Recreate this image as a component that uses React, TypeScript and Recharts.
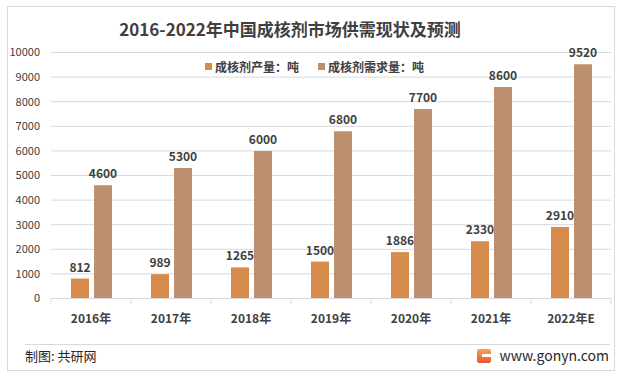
import React from 'react';
import { BarChart, Bar, XAxis, YAxis, CartesianGrid, LabelList, Customized } from 'recharts';

const categories = ['2016年', '2017年', '2018年', '2019年', '2020年', '2021年', '2022年E'];
const production = [812, 989, 1265, 1500, 1886, 2330, 2910];
const demand = [4600, 5300, 6000, 6800, 7700, 8600, 9520];
const yTicks = [0, 1000, 2000, 3000, 4000, 5000, 6000, 7000, 8000, 9000, 10000];
const seriesNames = ['成核剂产量：吨', '成核剂需求量：吨'];
const colors = ['#D58B4C', '#BC8F6F'];

const data = categories.map((c, i) => ({ name: c, prod: production[i], dem: demand[i] }));

const FONT = '"Noto Sans CJK SC", "Noto Sans", sans-serif';

const XTick = (props: any) => {
  const { x, y, payload, index } = props;
  const half = 40;
  return (
    <g>
      {index === 0 && <line x1={x - half} x2={x - half} y1={y - 8} y2={y - 3} stroke="#d9d9d9" />}
      <line x1={x + half} x2={x + half} y1={y - 8} y2={y - 3} stroke="#d9d9d9" />
      <text x={x} y={y + 16} textAnchor="middle" fontSize={12} fontWeight="bold" fill="#404040" fontFamily={FONT}>
        {payload.value}
      </text>
    </g>
  );
};

const legendX = [205, 318];

export default function App() {
  return (
    <div style={{ position: 'absolute', left: 0, top: 0, width: 620, height: 379, background: '#fff', fontFamily: FONT }}>
      <BarChart
        width={620}
        height={379}
        data={data}
        margin={{ top: 52.5, right: 9, bottom: 50.5, left: 8 }}
        barSize={18}
        barGap={5}
      >
        <Customized
          component={() => (
            <g>
              <rect x={7.5} y={6.5} width={607} height={364} fill="none" stroke="#d9d9d9" />
              <text x={290} y={36} textAnchor="middle" fontSize={17} fontWeight="bold" fill="#404040" fontFamily={FONT}>
                2016-2022年中国成核剂市场供需现状及预测
              </text>
              {seriesNames.map((n, i) => (
                <g key={n}>
                  <rect x={legendX[i]} y={63} width={7} height={7} fill={colors[i]} />
                  <text x={legendX[i] + 10} y={71.5} fontSize={12} fontWeight="bold" fill="#404040" fontFamily={FONT}>{n}</text>
                </g>
              ))}
              <line x1={25} x2={610} y1={344.5} y2={344.5} stroke="#d9d9d9" />
              <text x={25} y={361} fontSize={13} fill="#262626" fontFamily={FONT}>制图: 共研网</text>
              <defs>
                <linearGradient id="glogo" x1="0" y1="0" x2="0" y2="1">
                  <stop offset="0" stopColor="#F7A64A" />
                  <stop offset="1" stopColor="#E8553B" />
                </linearGradient>
              </defs>
              <rect x={477} y={349} width={14} height={14} rx={2} fill="url(#glogo)" />
              <rect x={482} y={354} width={9} height={3} fill="#fff" />
              <text x={609} y={361} textAnchor="end" fontSize={14} fill="#262626" fontFamily={FONT}>www.gonyn.com</text>
            </g>
          )}
        />
        <CartesianGrid vertical={false} stroke="#d9d9d9" />
        <XAxis
          dataKey="name"
          axisLine={{ stroke: '#d9d9d9' }}
          tickLine={false}
          tick={<XTick />}
          interval={0}
          height={30}
        />
        <YAxis
          width={43}
          domain={[0, 10000]}
          ticks={yTicks}
          axisLine={false}
          tickLine={false}
          tickMargin={5}
          interval={0}
          tick={{ fontSize: 11, fill: '#404040', fontFamily: FONT }}
        />
        <Bar dataKey="prod" name={seriesNames[0]} fill={colors[0]} isAnimationActive={false}>
          <LabelList dataKey="prod" position="top" offset={7} style={{ fontSize: 12, fontWeight: 'bold', fill: '#404040', fontFamily: FONT }} />
        </Bar>
        <Bar dataKey="dem" name={seriesNames[1]} fill={colors[1]} isAnimationActive={false}>
          <LabelList dataKey="dem" position="top" offset={7} style={{ fontSize: 12, fontWeight: 'bold', fill: '#404040', fontFamily: FONT }} />
        </Bar>
      </BarChart>
    </div>
  );
}
